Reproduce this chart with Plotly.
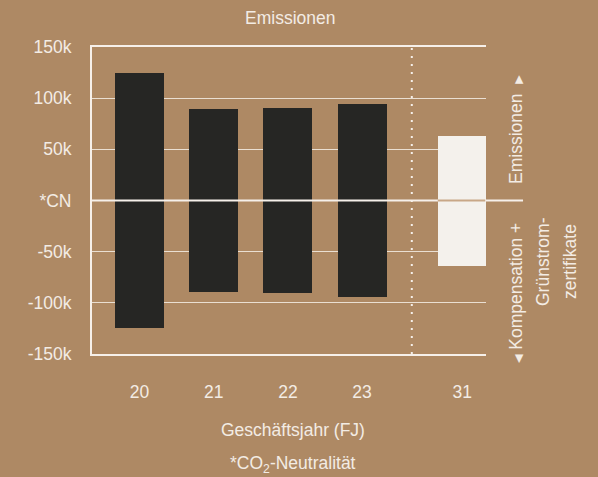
import plotly.graph_objects as go

# Emissions per fiscal year (in thousand t CO2e); negative = compensation + green power certificates
years = ["20", "21", "22", "23", "31"]
x_pos = [0, 1, 2, 3, 4.35]
emissions = [124.5, 89, 90, 94, 63]
compensation = [-124.5, -89, -90, -94, -64]
bar_colors = ["#262624", "#262624", "#262624", "#262624", "#f4f1ec"]

y_ticks = [150, 100, 50, 0, -50, -100, -150]
y_ticktext = ["150k", "100k", "50k", "*CN", "-50k", "-100k", "-150k"]

BG = "#ae8964"
FG = "#f3ece4"
FONT = "Liberation Sans, Arial, DejaVu Sans, sans-serif"
FS = 17.5
BAR_W = 0.66
DIVIDER_X = 3.67

fig = go.Figure()
fig.add_trace(go.Bar(x=x_pos, y=emissions, width=BAR_W, marker=dict(color=bar_colors, line=dict(width=0)),
                     hoverinfo="skip"))
fig.add_trace(go.Bar(x=x_pos, y=compensation, width=BAR_W, marker=dict(color=bar_colors, line=dict(width=0)),
                     hoverinfo="skip"))

fig.update_layout(
    width=598, height=477,
    margin=dict(l=92, r=112, t=47, b=123),
    paper_bgcolor=BG, plot_bgcolor=BG,
    barmode="overlay", bargap=0, showlegend=False,
    font=dict(family=FONT, size=FS, color=FG),
)

fig.update_xaxes(
    range=[-0.64, 4.67], tickvals=x_pos, ticktext=years,
    showgrid=False, zeroline=False,
    showline=True, mirror=True, linecolor="#f6f0ea", linewidth=2,
    ticks="", ticklabelstandoff=21, tickfont=dict(size=FS, color=FG),
)
fig.update_yaxes(
    range=[-150, 150], tickvals=y_ticks, ticktext=y_ticktext,
    showgrid=True, gridcolor="#eadfd2", gridwidth=1, zeroline=False,
    showline=True, linecolor="#f6f0ea", linewidth=2,
    ticks="", ticklabelstandoff=15, tickfont=dict(size=FS, color=FG),
)

# dotted divider between past years and target year
fig.add_shape(type="line", xref="x", yref="y", x0=DIVIDER_X, x1=DIVIDER_X, y0=-150, y1=150,
              line=dict(color="#f6f0ea", width=2, dash="2px,6px"), layer="above")
# neutrality line, extended into the side legend
fig.add_shape(type="line", xref="paper", yref="y", x0=0, x1=1.094, y0=0, y1=0,
              line=dict(color="#f6f0ea", width=2), layer="above")
# neutrality line drawn in brown across the light target bar
fig.add_shape(type="line", xref="x", yref="y", x0=x_pos[4] - BAR_W / 2, x1=x_pos[4] + BAR_W / 2 - 0.02,
              y0=0, y1=0, line=dict(color="#c8a787", width=2), layer="above")

def px_to_paper_x(px):
    return (px - 92) / 394

def px_to_paper_y(py):
    return (354 - py) / 307

annos = [
    dict(text="Emissionen", x=0.503, y=px_to_paper_y(18), textangle=0),
    dict(text="Geschäftsjahr (FJ)", x=0.51, y=px_to_paper_y(430), textangle=0),
    dict(text="*CO<sub>2</sub>-Neutralität", x=0.51, y=px_to_paper_y(464), textangle=0),
    dict(text="Emissionen  <span style='font-size:11px'>▶</span>", x=px_to_paper_x(516), y=px_to_paper_y(130), textangle=-90),
    dict(text="<span style='font-size:11px'>◀</span> Kompensation +", x=px_to_paper_x(516), y=px_to_paper_y(293), textangle=-90),
    dict(text="Grünstrom-", x=px_to_paper_x(543), y=px_to_paper_y(262), textangle=-90),
    dict(text="zertifikate", x=px_to_paper_x(570), y=px_to_paper_y(262), textangle=-90),
]
for a in annos:
    fig.add_annotation(xref="paper", yref="paper", x=a["x"], y=a["y"], text=a["text"],
                       textangle=a["textangle"], showarrow=False, xanchor="center", yanchor="middle",
                       font=dict(family=FONT, size=FS, color=FG))

fig.write_html("out.html")
